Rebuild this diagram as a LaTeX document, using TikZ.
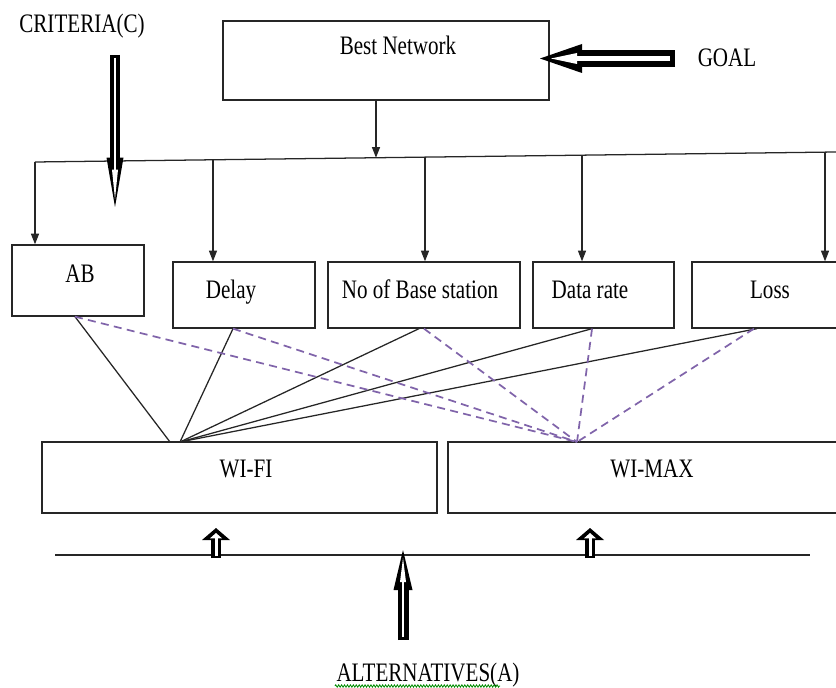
\documentclass[tikz,border=0pt]{standalone}
\usepackage{fontspec}
\setmainfont{Liberation Serif}[FakeStretch=0.79]
\usetikzlibrary{arrows.meta, calc, decorations.pathmorphing}

\definecolor{lilac}{RGB}{128,100,170}
\tikzset{
  box/.style={draw=black!85, line width=1pt, inner sep=0pt},
  lbl/.style={anchor=base, inner sep=0pt},
  link/.style={black!85, line width=0.95pt},
  alt/.style={lilac, line width=1.3pt, dash pattern=on 6pt off 4pt},
  branch/.style={-{Triangle[length=8pt, width=6pt]}}
}

\begin{document}
\begin{tikzpicture}[x=0.75pt, y=-0.75pt, font=\fontsize{20pt}{24pt}\selectfont]
\clip (0,0) rectangle (836,688);

% boxes
\node[box, minimum width=244.5pt, minimum height=59.25pt] (best) at (386,60.5) {};
\node[box, minimum width=99pt, minimum height=53.25pt] (ab) at (78,280.5) {};
\node[box, minimum width=106.5pt, minimum height=49.5pt] (delay) at (244,295) {};
\node[box, minimum width=144pt, minimum height=49.5pt] (nobase) at (424,295) {};
\node[box, minimum width=105.75pt, minimum height=49.5pt] (drate) at (603.5,295) {};
\node[box, minimum width=117pt, minimum height=49.5pt] (loss) at (770,295) {};
\node[box, minimum width=296.25pt, minimum height=53.25pt] (wifi) at (239.5,477.5) {};
\node[box, minimum width=306pt, minimum height=53.25pt] (wimax) at (652,477.5) {};

% texts
\node[lbl] (bestT) at (398,55) {Best Network};
\node[lbl] (abT) at (80,282) {AB};
\node[lbl] (delayT) at (231,298) {Delay};
\node[lbl] (nobaseT) at (420,298) {No of Base station};
\node[lbl] (drateT) at (590,298) {Data rate};
\node[lbl] (lossT) at (770,298) {Loss};
\node[lbl] (wifiT) at (246,477) {WI-FI};
\node[lbl] (wimaxT) at (652,477) {WI-MAX};
\node[lbl] (critT) at (82,33) {CRITERIA(C)};
\node[lbl] (goalT) at (727,67) {GOAL};
\node[lbl] (altT) at (428,681) {ALTERNATIVES(A)};
\draw[green!55!black, line width=0.6pt, decorate, decoration={zigzag, amplitude=0.9pt, segment length=2.2pt}] (335,686) -- (500,686);

% bus from the goal to the criteria
\coordinate (busL) at (35,162);
\coordinate (busR) at (836,152);
\draw[link] (busL) -- (busR);
\coordinate (bAB) at (busL);
\coordinate (bDelay) at ($(busL)!0.2222!(busR)$);
\coordinate (bBest) at ($(busL)!0.4257!(busR)$);
\coordinate (bNobase) at ($(busL)!0.4869!(busR)$);
\coordinate (bDrate) at ($(busL)!0.6829!(busR)$);
\coordinate (bLoss) at ($(busL)!0.9863!(busR)$);
\draw[link, branch] (bBest |- best.south) -- (bBest);
\draw[link, branch] (bAB) -- (bAB |- ab.north);
\draw[link, branch] (bDelay) -- (bDelay |- delay.north);
\draw[link, branch] (bNobase) -- (bNobase |- nobase.north);
\draw[link, branch] (bDrate) -- (bDrate |- drate.north);
\draw[link, branch] (bLoss) -- (bLoss |- loss.north);

% criteria to alternatives
\coordinate (fiA) at (170,442);
\coordinate (fi) at (180,442);
\coordinate (mx) at (577,442);
\draw[link] ([xshift=-2.25pt]ab.south) -- (fiA);
\draw[link] ([xshift=-8.25pt]delay.south) -- (fi);
\draw[link] ([xshift=-3.75pt]nobase.south) -- (fi);
\draw[link] ([xshift=-8.6pt]drate.south) -- (fi);
\draw[link] ([xshift=-9.75pt]loss.south) -- (fi);
\draw[alt] ([xshift=-2.25pt]ab.south) -- (mx);
\draw[alt] ([xshift=-8.25pt]delay.south) -- (mx);
\draw[alt] ([xshift=0pt]nobase.south) -- (mx);
\draw[alt] ([xshift=-8.6pt]drate.south) -- (mx);
\draw[alt] ([xshift=-12pt]loss.south) -- (mx);

% hollow arrows
\coordinate (critTail) at (115,55);
\coordinate (critTip) at (115,207);
\draw[line width=7.5pt, -{Triangle[length=37pt, width=12.75pt, line width=0pt]}] (critTail) -- (critTip);
\draw[white, line width=1.5pt, shorten <=2.25pt, shorten >=6pt, -{Triangle[length=22pt, width=4.5pt, line width=0pt]}] (critTail) -- (critTip);

\coordinate (goalTail) at (675,58.5);
\coordinate (goalTip) at (540,58.5);
\draw[line width=12.75pt, -{Triangle[length=31.5pt, width=21.75pt, line width=0pt]}] (goalTail) -- (goalTip);
\draw[white, line width=4pt, shorten <=3.75pt, shorten >=8.25pt, -{Triangle[length=19.5pt, width=8.25pt, line width=0pt]}] (goalTail) -- (goalTip);

% alternatives
\coordinate (altL) at (55,555);
\coordinate (altR) at (810,555);
\draw[link] (altL) -- (altR);

\coordinate (altTail) at (403,640);
\coordinate (altTip) at (403,550);
\draw[line width=8.25pt, -{Triangle[length=30pt, width=14.25pt, line width=0pt]}] (altTail) -- (altTip);
\draw[white, line width=1.5pt, shorten <=2.25pt, shorten >=6pt, -{Triangle[length=18pt, width=4.5pt, line width=0pt]}] (altTail) -- (altTip);

\coordinate (wfTail) at (216,558);
\coordinate (wfTip) at (216,528);
\draw[line width=7.5pt, -{Triangle[length=9pt, width=21pt, line width=0pt]}] (wfTail) -- (wfTip);
\draw[white, line width=2.25pt, shorten <=1.5pt, shorten >=3.75pt, -{Triangle[length=4pt, width=9pt, line width=0pt]}] (wfTail) -- (wfTip);

\coordinate (wmTail) at (590,558);
\coordinate (wmTip) at (590,528);
\draw[line width=7.5pt, -{Triangle[length=9pt, width=21pt, line width=0pt]}] (wmTail) -- (wmTip);
\draw[white, line width=2.25pt, shorten <=1.5pt, shorten >=3.75pt, -{Triangle[length=4pt, width=9pt, line width=0pt]}] (wmTail) -- (wmTip);

\end{tikzpicture}
\end{document}
